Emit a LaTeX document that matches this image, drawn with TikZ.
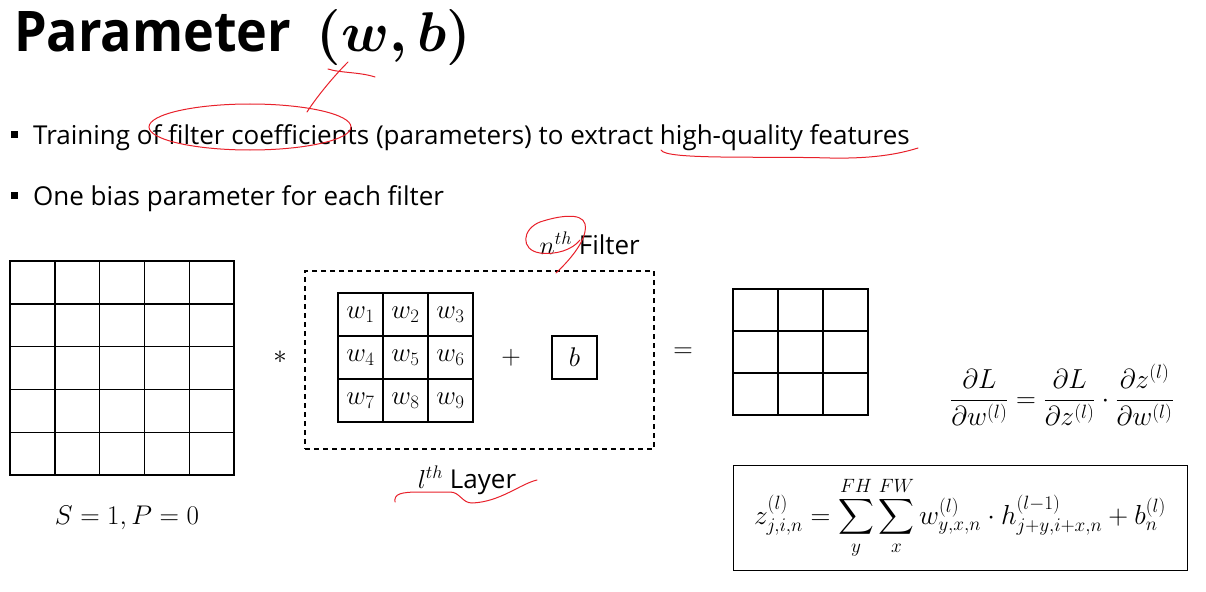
\RequirePackage{fix-cm}
\documentclass[tikz,border=0pt]{standalone}
\usepackage{fontspec}
\usepackage{amsmath}
\usepackage{tikz}
\usetikzlibrary{positioning}
\setmainfont{Open Sans}
\newfontfamily\headfont[FakeStretch=0.93]{Open Sans}
\newfontfamily\bodyfont{Open Sans}
\definecolor{penred}{HTML}{E8202A}

\begin{document}
\begin{tikzpicture}[x=1pt, y=-1pt,
    cell/.style={draw, line width=1.4pt, minimum width=45pt, minimum height=43pt,
                 inner sep=0pt, font=\fontsize{27}{30}\selectfont},
    body/.style={font=\bodyfont\fontsize{26}{30}\selectfont, inner sep=0pt, anchor=base west},
    mathlbl/.style={font=\fontsize{27}{30}\selectfont, inner sep=0pt},
    marker/.style={fill, minimum size=7pt, inner sep=0pt},
    pen/.style={draw=penred, line width=1pt, line cap=round}]
  \useasboundingbox (0,0) rectangle (1206,591);

  % heading and bullets
  \node[anchor=base west, inner sep=0pt, font=\headfont\bfseries\fontsize{56}{60}\selectfont]
    (title) at (14,52) {Parameter\hspace{0.45em}{\boldmath$(w,b)$}};
  \node[marker] (mark1) at (14.5,134.5) {};
  \node[body] (point1) at (33,144) {Training of filter coefficients (parameters) to extract high-quality features};
  \node[marker] (mark2) at (14.5,195.5) {};
  \node[body] (point2) at (33,205) {One bias parameter for each filter};

  % input map 5x5
  \foreach \r in {1,...,5}
    \foreach \c in {1,...,5}
      \node[cell, minimum width=44.8pt, minimum height=42.8pt] (in-\r-\c)
        at ({10+44.8*(\c-0.5)},{261+42.8*(\r-0.5)}) {};
  \node[mathlbl] (stride) at (127,518) {$S=1, P=0$};
  \node[mathlbl] (conv) at (280,357) {$*$};

  % filter n of layer l
  \node[draw, line width=1.2pt, dash pattern=on 5pt off 4pt,
        minimum width=349pt, minimum height=178pt] (filterbox) at (479.5,360) {};
  \foreach \r in {1,2,3}
    \foreach \c in {1,2,3} {
      \pgfmathtruncatemacro\k{(\r-1)*3+\c}
      \node[cell] (w\k) at ({338+45*(\c-0.5)},{293+43*(\r-0.5)}) {$w_{\k}$};
    }
  \node[mathlbl] (plus) at (511,358) {$+$};
  \node[cell] (bias) at (574.5,357.5) {$b$};
  \node[body, anchor=base east] (filterlbl) at (640,254) {$n^{th}$ Filter};
  \node[body, anchor=base] (layerlbl) at (467,488) {$l^{th}$ Layer};
  \node[mathlbl] (equals) at (683,353) {$=$};

  % output map 3x3
  \foreach \r in {1,2,3}
    \foreach \c in {1,2,3}
      \node[cell, minimum height=42pt] (out-\r-\c) at ({733+45*(\c-0.5)},{289+42*(\r-0.5)}) {};

  % formulas
  \node[mathlbl, font=\fontsize{27.5}{30}\selectfont] (grad) at (1062,395)
    {$\dfrac{\partial L}{\partial w^{(l)}} = \dfrac{\partial L}{\partial z^{(l)}}\cdot\dfrac{\partial z^{(l)}}{\partial w^{(l)}}$};
  \node[draw, line width=1pt, minimum width=454pt, minimum height=105pt, inner sep=0pt,
        font=\fontsize{27.5}{30}\selectfont] (fwd) at (960,517.5)
    {$z_{j,i,n}^{(l)} = \displaystyle\sum_{y}^{FH}\sum_{x}^{FW} w_{y,x,n}^{(l)}\cdot h_{j+y,i+x,n}^{(l-1)} + b_n^{(l)}$};

  % red pen marks
  \draw[pen] (250,127) ellipse [x radius=101, y radius=23];
  \draw[pen] (307,112) .. controls (318,95) and (335,75) .. (348,62);
  \draw[pen] (328,69) .. controls (340,73) and (360,72) .. (375,77);
  \draw[pen] (661,150) .. controls (665,160) and (760,156) .. (830,158)
             .. controls (880,159) and (905,152) .. (918,148);
  \draw[pen] (556,273) .. controls (572,258) and (588,238) .. (585,224)
             .. controls (582,212) and (558,216) .. (540,222)
             .. controls (522,229) and (520,250) .. (540,253)
             .. controls (556,255) and (572,250) .. (580,240);
  \draw[pen] (395,502) .. controls (394,494) and (400,492) .. (420,492) -- (450,492)
             .. controls (460,492) and (462,503) .. (472,503)
             .. controls (500,502) and (520,484) .. (537,480);
\end{tikzpicture}
\end{document}
